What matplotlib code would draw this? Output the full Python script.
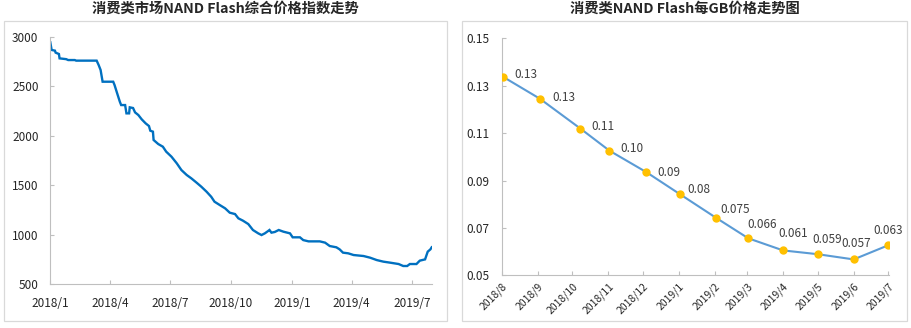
import matplotlib
matplotlib.use("Agg")
import matplotlib.pyplot as plt
import matplotlib.patches as patches
import pandas as pd

plt.rcParams['font.family'] = ['Noto Sans CJK SC', 'DejaVu Sans']

# left panel: composite price index
index_dates = [
    '2018-01-01', '2018-01-03', '2018-01-08', '2018-01-09', '2018-01-14', '2018-01-15',
    '2018-01-25', '2018-01-28', '2018-02-07', '2018-02-09', '2018-03-12', '2018-03-15',
    '2018-03-18', '2018-03-19', '2018-03-21', '2018-04-06', '2018-04-08', '2018-04-12',
    '2018-04-16', '2018-04-18', '2018-04-24', '2018-04-26', '2018-04-30', '2018-05-01',
    '2018-05-06', '2018-05-09', '2018-05-14', '2018-05-19', '2018-05-25', '2018-05-30',
    '2018-06-01', '2018-06-05', '2018-06-06', '2018-06-13', '2018-06-20', '2018-06-25',
    '2018-07-03', '2018-07-11', '2018-07-18', '2018-07-26', '2018-08-02', '2018-08-10',
    '2018-08-17', '2018-08-25', '2018-09-01', '2018-09-06', '2018-09-14', '2018-09-22',
    '2018-09-29', '2018-10-07', '2018-10-12', '2018-10-19', '2018-10-27', '2018-11-03',
    '2018-11-11', '2018-11-16', '2018-11-21', '2018-11-26', '2018-11-28', '2018-12-01',
    '2018-12-06', '2018-12-12', '2018-12-19', '2018-12-29', '2019-01-02', '2019-01-13',
    '2019-01-18', '2019-01-26', '2019-02-12', '2019-02-20', '2019-02-27', '2019-03-09',
    '2019-03-14', '2019-03-19', '2019-03-27', '2019-04-04', '2019-04-19', '2019-04-29',
    '2019-05-09', '2019-05-19', '2019-05-29', '2019-06-11', '2019-06-18', '2019-06-24',
    '2019-06-28', '2019-07-08', '2019-07-13', '2019-07-21', '2019-07-25', '2019-07-29',
    '2019-07-31',
]
index_values = [
    2946, 2869, 2862, 2842, 2828, 2784,
    2776, 2767, 2767, 2761, 2761, 2717,
    2666, 2626, 2548, 2548, 2515, 2430,
    2346, 2312, 2312, 2228, 2228, 2289,
    2282, 2238, 2211, 2168, 2127, 2100,
    2053, 2043, 1959, 1918, 1891, 1841,
    1790, 1723, 1655, 1605, 1571, 1527,
    1487, 1436, 1385, 1335, 1301, 1268,
    1224, 1210, 1167, 1143, 1109, 1049,
    1015, 998, 1015, 1039, 1049, 1022,
    1029, 1049, 1032, 1015, 975, 975,
    947, 934, 934, 921, 887, 874,
    853, 820, 813, 796, 786, 769,
    745, 729, 719, 705, 685, 685,
    705, 705, 739, 752, 830, 853,
    874,
]
index_ticks = ['2018-01-01', '2018-04-01', '2018-07-01', '2018-10-01',
               '2019-01-01', '2019-04-01', '2019-07-01']
index_yticks = [500, 1000, 1500, 2000, 2500, 3000]

# right panel: price per GB
gb_dates = ['2018-08-02', '2018-09-03', '2018-10-08', '2018-11-02', '2018-12-04',
            '2019-01-02', '2019-02-02', '2019-03-02', '2019-04-01', '2019-05-01',
            '2019-06-01', '2019-07-01']
gb_values = [0.1338, 0.1245, 0.1119, 0.1026, 0.0935, 0.0842, 0.0743, 0.0656,
             0.0605, 0.0589, 0.0567, 0.0627]
gb_labels = ['0.13', '0.13', '0.11', '0.10', '0.09', '0.08', '0.075', '0.066',
             '0.061', '0.059', '0.057', '0.063']
gb_ticks = ['2018-08-01', '2018-09-01', '2018-10-01', '2018-11-01', '2018-12-01',
            '2019-01-01', '2019-02-01', '2019-03-01', '2019-04-01', '2019-05-01',
            '2019-06-01', '2019-07-01']
gb_yticks = [0.05, 0.07, 0.09, 0.11, 0.13, 0.15]

W, H = 911, 328
fig = plt.figure(figsize=(W / 100, H / 100), dpi=100)


def px_axes(x0, y0, x1, y1):
    return fig.add_axes([x0 / W, 1 - y1 / H, (x1 - x0) / W, (y1 - y0) / H])


def style(ax):
    for s in ['top', 'right']:
        ax.spines[s].set_visible(False)
    for s in ['left', 'bottom']:
        ax.spines[s].set_color('#bfbfbf')
        ax.spines[s].set_linewidth(0.8)
    ax.tick_params(direction='in', length=3, width=0.8, color='#bfbfbf',
                   labelsize=8.5, labelcolor='#262626')


def month_label(d):
    return f'{d.year}/{d.month}'


# panel frames
for x0, x1 in [(4.3, 446.7), (462.3, 906.7)]:
    fig.patches.append(patches.Rectangle((x0 / W, 1 - 320.7 / H), (x1 - x0) / W,
                                         (320.7 - 21) / H, transform=fig.transFigure,
                                         fill=False, edgecolor='#d9d9d9', lw=0.9))

# left chart
ax1 = px_axes(50.3, 37, 431.7, 284.3)
d1 = pd.to_datetime(index_dates)
ax1.plot(d1, index_values, color='#0070c0', lw=1.7, solid_joinstyle='miter')
ax1.set_ylim(500, 3000)
ax1.set_xlim(pd.Timestamp('2018-01-01'), pd.Timestamp('2019-07-31'))
t1 = pd.to_datetime(index_ticks)
ax1.set_xticks(t1, [month_label(d) for d in t1])
ax1.set_yticks(index_yticks, [str(v) for v in index_yticks])
style(ax1)
ax1.tick_params(axis='x', pad=9)
ax1.tick_params(axis='y', pad=8.5)
fig.text(225 / W, 1 - 9 / H, '消费类市场NAND Flash综合价格指数走势', ha='center', va='center',
         fontsize=10.3, fontweight='bold', color='#262626')

# right chart
ax2 = px_axes(501.7, 38.3, 889, 275.3)
d2 = pd.to_datetime(gb_dates)
ax2.plot(d2, gb_values, color='#5b9bd5', lw=1.5, marker='o', markersize=5,
         markerfacecolor='#ffc000', markeredgecolor='#ffc000', zorder=3)
ax2.set_ylim(0.05, 0.15)
ax2.set_xlim(pd.Timestamp('2018-08-01'), pd.Timestamp('2019-07-01 12:00'))
t2 = pd.to_datetime(gb_ticks)
ax2.set_xticks(t2, [month_label(d) for d in t2], rotation=45, ha='right',
               rotation_mode='anchor')
ax2.set_yticks(gb_yticks, [f'{v:.2f}' for v in gb_yticks])
style(ax2)
ax2.tick_params(axis='x', pad=4, labelsize=7.5)
ax2.tick_params(axis='y', pad=9)

# label offsets in pixels (layout only)
label_offsets = [(12, 2, 'left'), (12, 1, 'left'), (11, 2, 'left'), (11, 2, 'left'),
                 (11, 0, 'left'), (7, 5, 'left'), (4, 8, 'left'), (14, 14, 'center'),
                 (10, 17, 'center'), (9, 15, 'center'), (3, 16, 'center'), (0, 15, 'center')]
for d, v, lab, (dx, dy, ha) in zip(d2, gb_values, gb_labels, label_offsets):
    ax2.annotate(lab, (d, v), xytext=(dx, dy), textcoords='offset pixels',
                 ha=ha, va='center', fontsize=8.5, color='#404040')

fig.text(685 / W, 1 - 9 / H, '消费类NAND Flash每GB价格走势图', ha='center', va='center',
         fontsize=10.3, fontweight='bold', color='#262626')

fig.savefig('out.png', dpi=100)
